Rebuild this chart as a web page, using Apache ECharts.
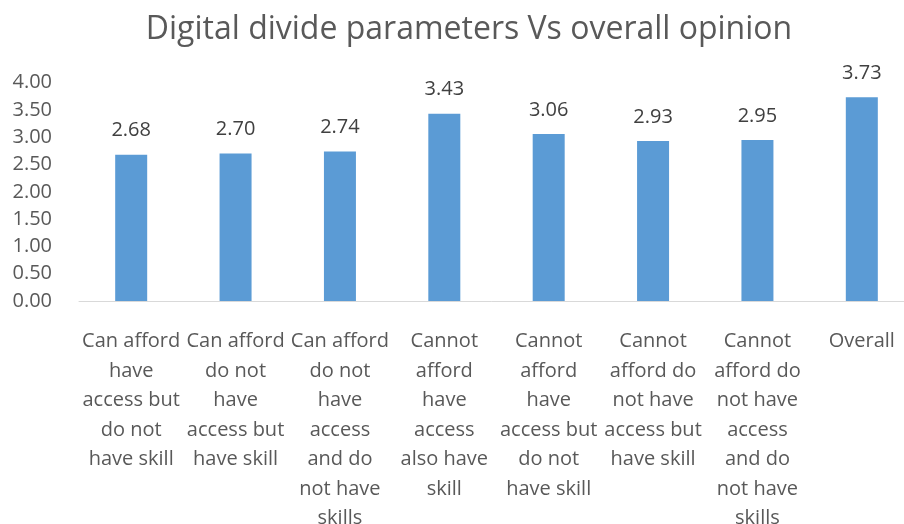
<!DOCTYPE html>
<html><head><meta charset="utf-8">
<script src="https://cdn.jsdelivr.net/npm/echarts@6/dist/echarts.min.js"></script>
<style>html,body{margin:0;padding:0;background:#fff}#c{width:904px;height:524px}</style>
</head><body><div id="c"></div>
<script>
const categories = [
  "Can afford\nhave\naccess but\ndo not\nhave skill",
  "Can afford\ndo not\nhave\naccess but\nhave skill",
  "Can afford\ndo not\nhave\naccess\nand do\nnot have\nskills",
  "Cannot\nafford\nhave\naccess\nalso have\nskill",
  "Cannot\nafford\nhave\naccess but\ndo not\nhave skill",
  "Cannot\nafford do\nnot have\naccess but\nhave skill",
  "Cannot\nafford do\nnot have\naccess\nand do\nnot have\nskills",
  "Overall"
];
const values = [2.68, 2.70, 2.74, 3.43, 3.06, 2.93, 2.95, 3.73];
const yTicks = { min: 0, max: 4, interval: 0.5 };
const titleText = "Digital divide parameters Vs overall opinion";

const FONT = "Open Sans";
const chart = echarts.init(document.getElementById('c'), null, {renderer: 'canvas'});
chart.setOption({
  animation: false,
  title: {
    text: titleText, left: 464, top: 9, textAlign: 'center',
    textStyle: { fontFamily: FONT, fontSize: 32, fontWeight: 'normal', color: '#595959' }
  },
  grid: { left: 79, right: -10, top: 82.6, bottom: 223, containLabel: false, outerBoundsMode: 'none' },
  xAxis: {
    type: 'category', data: categories,
    axisLine: { lineStyle: { color: '#d9d9d9', width: 1 } },
    axisTick: { show: false },
    axisLabel: { interval: 0, margin: 26, fontFamily: FONT, fontSize: 20, color: '#595959', lineHeight: 29.5, align: 'center' }
  },
  yAxis: {
    type: 'value', min: yTicks.min, max: yTicks.max, interval: yTicks.interval,
    axisLine: { show: false }, axisTick: { show: false },
    splitLine: { show: false },
    axisLabel: { fontFamily: FONT, fontSize: 20, color: '#595959', margin: 27,
      formatter: v => v.toFixed(2) }
  },
  series: [{
    type: 'bar', data: values, barWidth: 32,
    itemStyle: { color: '#5b9bd5' },
    label: { show: true, position: 'top', distance: 14, fontFamily: FONT, fontSize: 20, color: '#404040',
      formatter: p => p.value.toFixed(2) }
  }]
});
</script></body></html>
